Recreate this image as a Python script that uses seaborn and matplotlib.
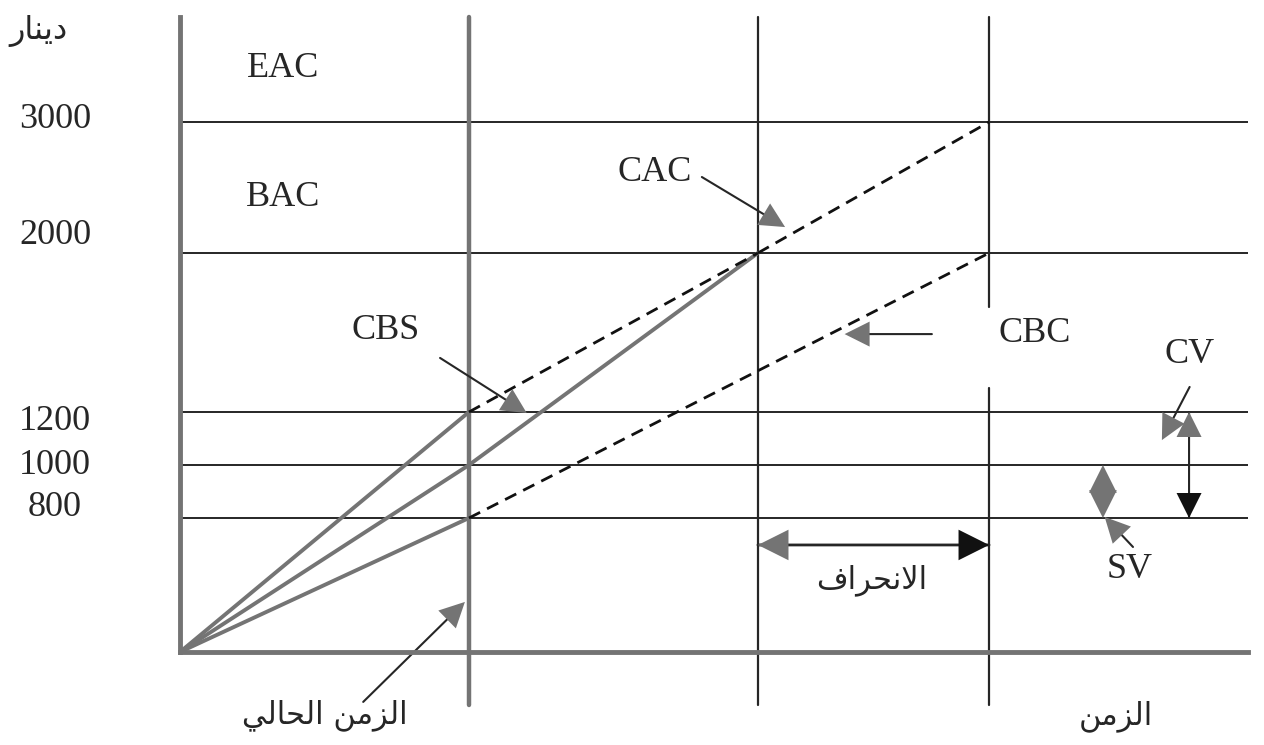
import numpy as np
import pandas as pd
import seaborn as sns
import matplotlib.pyplot as plt

# time (months) and cost (dinar)
t_now, t_plan, t_end = 5, 10, 14
cost_ticks = [800, 1000, 1200, 2000, 3000]
tick_labels = ['800', '1000', '1200', '2000', '3000']

# solid = actual lines up to now, dashed = forecasts
solid_t = [[0, 5], [0, 5, 10], [0, 5]]
solid_cost = [[0, 1200], [0, 1000, 2000], [0, 800]]
dashed_t = [[5, 10], [10, 14], [5, 14]]
dashed_cost = [[1200, 2000], [2000, 3000], [800, 2000]]

# Arabic labels, already in joined presentation forms, visual (left to right) order
# matplotlib does no Arabic shaping by itself
lbl_dinar = '\uFEAD\uFE8E\uFEE8\uFEF3\uFEA9'                     # دينار
lbl_time = '\uFEE6\uFEE3\uFEB0\uFEDF\uFE8D'                      # الزمن
lbl_now = '\uFEF2\uFEDF\uFE8E\uFEA4\uFEDF\uFE8D ' + lbl_time      # الزمن الحالي
lbl_dev = '\uFED1\uFE8D\uFEAE\uFEA4\uFEE7\uFEFB\uFE8D'           # الانحراف


def to_frame(ts, cs):
    rows = []
    for i, (t, c) in enumerate(zip(ts, cs)):
        for a, b in zip(t, c):
            rows.append({'seg': i, 't': a, 'cost': b})
    return pd.DataFrame(rows)


solid = to_frame(solid_t, solid_cost)
dashed = to_frame(dashed_t, dashed_cost)

sns.set_theme(style='white')
plt.rcParams['font.family'] = ['Liberation Serif', 'DejaVu Sans']

GRAY = '#747474'
INK = '#262626'
FS = 26

fig = plt.figure(figsize=(12.64, 7.45), dpi=100)
ax = fig.add_axes([180 / 1264, 93 / 745, 1068 / 1264, 635 / 745])

# the cost axis of the drawing is not linear: piecewise scale
scale_v = [-800, 0, 800, 1000, 1200, 2000, 3000, 3800, 4600]
scale_p = [-134, 0, 134, 187, 240, 399, 530, 635, 740]
ax.set_yscale('function', functions=(lambda v: np.interp(v, scale_v, scale_p),
                                     lambda p: np.interp(p, scale_p, scale_v)))

for v in cost_ticks:
    ax.axhline(v, color=INK, lw=1.4, zorder=1)

below = -53 / 635
ax.axvline(t_now, below, 1, color=GRAY, lw=3.2, clip_on=False, zorder=2)
ax.axvline(t_plan, below, 1, color=INK, lw=1.6, clip_on=False, zorder=2)
ax.axvline(t_end, below, 0.416, color=INK, lw=1.6, clip_on=False, zorder=2)
ax.axvline(t_end, 0.543, 1, color=INK, lw=1.6, clip_on=False, zorder=2)

sns.lineplot(data=solid, x='t', y='cost', units='seg', estimator=None, sort=False,
             color=GRAY, lw=2.8, ax=ax, zorder=3)
sns.lineplot(data=dashed, x='t', y='cost', units='seg', estimator=None, sort=False,
             color='#111111', lw=2, linestyle=(0, (4.5, 2.8)), ax=ax, zorder=3)

ax.set_xlim(0, 18.48)
ax.set_ylim(0, 3800)
ax.set_xticks([])
ax.set_yticks([])
ax.set_xlabel('')
ax.set_ylabel('')
ax.spines[['top', 'right']].set_visible(False)
for s in ['left', 'bottom']:
    ax.spines[s].set_color(GRAY)
    ax.spines[s].set_linewidth(3.5)
    ax.spines[s].set_zorder(4)

# cost labels sit a bit off their lines in the original
nudge = [10, 0, -9, 18, 2]
for v, lab, dy in zip(cost_ticks, tick_labels, nudge):
    ax.annotate(lab, xy=(0, v), xycoords=ax.get_yaxis_transform(),
                xytext=(-125, dy), textcoords='offset pixels',
                ha='center', va='center', fontsize=FS, color=INK, annotation_clip=False)


def head(tip, tail, color, length=1.8, width=0.9):
    ax.annotate('', xy=tip, xytext=tail, annotation_clip=False,
                arrowprops=dict(arrowstyle=f'-|>,head_length={length},head_width={width}',
                                fc=color, ec='none', lw=0, shrinkA=0, shrinkB=0,
                                mutation_scale=10))


def shaft(tip, tail, lw=1.5, cut=8):
    ax.annotate('', xy=tip, xytext=tail, annotation_clip=False,
                arrowprops=dict(arrowstyle='-', color=INK, lw=lw, shrinkA=0, shrinkB=cut))


def pointer(tail, tip):
    shaft(tip, tail)
    head(tip, tail, GRAY)


def label(x, y, s, arabic=False, size=FS):
    fam = ['DejaVu Sans'] if arabic else ['Liberation Serif', 'DejaVu Sans']
    ax.text(x, y, s, ha='center', va='center', fontsize=size, color=INK, family=fam)


label(1.78, 3411, 'EAC')
label(1.78, 2427, 'BAC')

label(8.22, 2618, 'CAC')
pointer((9.03, 2580), (10.47, 2198))

label(3.55, 1612, 'CBS')
pointer((4.50, 1472), (6.0, 1196))

label(14.79, 1597, 'CBC')
pointer((13.01, 1592), (11.5, 1592))

label(17.47, 1487, 'CV')
pointer((17.47, 1326), (16.99, 1094))
x_cv = 17.46
shaft((x_cv, 800), (x_cv, 1200), cut=0)
head((x_cv, 1200), (x_cv, 1000), GRAY)
head((x_cv, 800), (x_cv, 1000), '#111111')

label(16.44, 490, 'SV')
pointer((16.49, 627), (16.0, 804))
# small double arrow between 800 and 1000: the two heads meet as a diamond
x_sv = 15.97
head((x_sv, 1000), (x_sv, 900), GRAY, 2.0, 1.0)
head((x_sv, 800), (x_sv, 900), GRAY, 2.0, 1.0)

y_dev = 639
shaft((t_end, y_dev), (t_plan, y_dev), lw=2, cut=0)
head((t_plan, y_dev), (12, y_dev), GRAY, 2.2, 1.1)
head((t_end, y_dev), (12, y_dev), '#111111', 2.2, 1.1)
label(11.96, 430, lbl_dev, arabic=True, size=22)

label(2.51, -376, lbl_now, arabic=True, size=22)
pointer((3.17, -298), (4.93, 299))

label(16.19, -382, lbl_time, arabic=True, size=22)
label(-2.44, 3693, lbl_dinar, arabic=True, size=23)

fig.savefig('out.png', dpi=100)
